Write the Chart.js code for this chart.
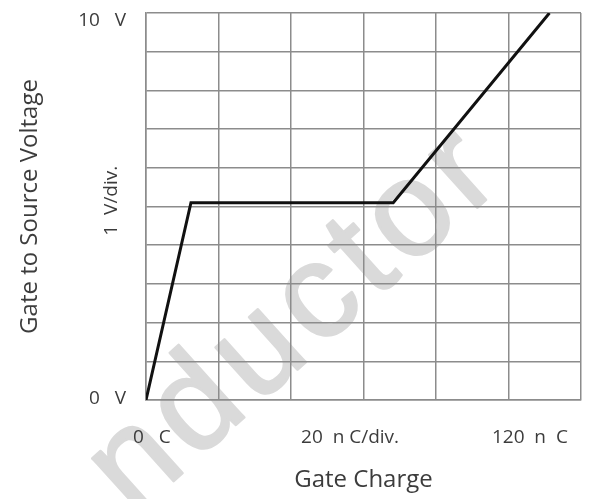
<!DOCTYPE html>
<html>
<head>
<meta charset="utf-8">
<script src="https://cdn.jsdelivr.net/npm/chart.js@4"></script>
<style>
  html, body { margin: 0; padding: 0; background: #fff; }
  #wrap { width: 615px; height: 499px; }
</style>
</head>
<body>
<div id="wrap"><canvas id="c" width="615" height="499"></canvas></div>
<script>
// Data (gate charge in nC, gate-source voltage in V)
const chargeNC = [0, 12.4, 68.2, 111.3];
const voltageV = [0, 5.1, 5.1, 10];

// Axis ranges / divisions
const xMin = 0, xMax = 120, xStep = 20;
const yMin = 0, yMax = 10, yStep = 1;

// Tick label texts and the data values where they sit
const xTickLabels = ['0   C', '20  n C/div.', '120  n  C'];
const xTickValues = [1.6, 56.3, 105.9];
const yTickLabels = ['10   V', '0   V'];
const yTickValues = [9.8, 0.03];
const yDivLabel = '1  V/div.';
const yDivValue = 5.15;

const xTitle = 'Gate Charge';
const yTitle = 'Gate to Source Voltage';
const watermark = 'nductor';

const textColor = '#3c3c3c';
const tickFont = '19px "Open Sans"';

const watermarkPlugin = {
  id: 'watermark',
  beforeDraw(chart) {
    const ctx = chart.ctx;
    ctx.save();
    ctx.fillStyle = '#dadada';
    ctx.strokeStyle = '#dadada';
    ctx.lineWidth = 2.5;
    ctx.lineJoin = 'round';
    ctx.font = '135px "Liberation Sans"';
    try { ctx.letterSpacing = '8px'; } catch (e) {}
    ctx.textAlign = 'center';
    ctx.textBaseline = 'alphabetic';
    ctx.translate(298, 322);
    ctx.rotate(-42 * Math.PI / 180);
    ctx.fillText(watermark, 0, 35);
    ctx.strokeText(watermark, 0, 35);
    ctx.restore();
  }
};

const labelPlugin = {
  id: 'tickTexts',
  afterDraw(chart) {
    const ctx = chart.ctx;
    const xs = chart.scales.x, ys = chart.scales.y;
    ctx.save();
    ctx.fillStyle = textColor;
    ctx.font = tickFont;
    ctx.textBaseline = 'middle';
    ctx.textAlign = 'center';
    xTickLabels.forEach((t, i) => {
      ctx.fillText(t, xs.getPixelForValue(xTickValues[i]), xs.top + 38);
    });
    ctx.textAlign = 'right';
    yTickLabels.forEach((t, i) => {
      ctx.fillText(t, ys.right - 20, ys.getPixelForValue(yTickValues[i]));
    });
    ctx.translate(ys.right - 34, ys.getPixelForValue(yDivValue));
    ctx.rotate(-Math.PI / 2);
    ctx.textAlign = 'center';
    ctx.fillText(yDivLabel, 0, 0);
    ctx.restore();
  }
};

new Chart(document.getElementById('c'), {
  type: 'line',
  data: {
    datasets: [{
      data: chargeNC.map((x, i) => ({ x: x, y: voltageV[i] })),
      borderColor: '#111',
      borderWidth: 3,
      pointRadius: 0,
      tension: 0,
      fill: false
    }]
  },
  options: {
    responsive: false,
    animation: false,
    layout: { padding: { top: 13, right: 34, left: 0, bottom: 0 } },
    plugins: { legend: { display: false }, tooltip: { enabled: false } },
    scales: {
      x: {
        type: 'linear',
        min: xMin, max: xMax,
        ticks: { display: false, stepSize: xStep },
        grid: { color: '#8c8c8c', lineWidth: 1.5, drawTicks: false },
        border: { color: '#8c8c8c', width: 1.5 },
        title: {
          display: true, text: xTitle, color: textColor,
          font: { family: 'Open Sans', size: 24 },
          padding: { top: 0, bottom: 4 }
        },
        afterFit(s) { s.height = 99; }
      },
      y: {
        type: 'linear',
        min: yMin, max: yMax,
        ticks: { display: false, stepSize: yStep },
        grid: { color: '#8c8c8c', lineWidth: 1.5, drawTicks: false },
        border: { color: '#8c8c8c', width: 1.5 },
        title: {
          display: true, text: yTitle, color: textColor,
          font: { family: 'Open Sans', size: 24 },
          padding: { top: 16, bottom: 0 }
        },
        afterFit(s) { s.width = 146; }
      }
    }
  },
  plugins: [watermarkPlugin, labelPlugin]
});
</script>
</body>
</html>
